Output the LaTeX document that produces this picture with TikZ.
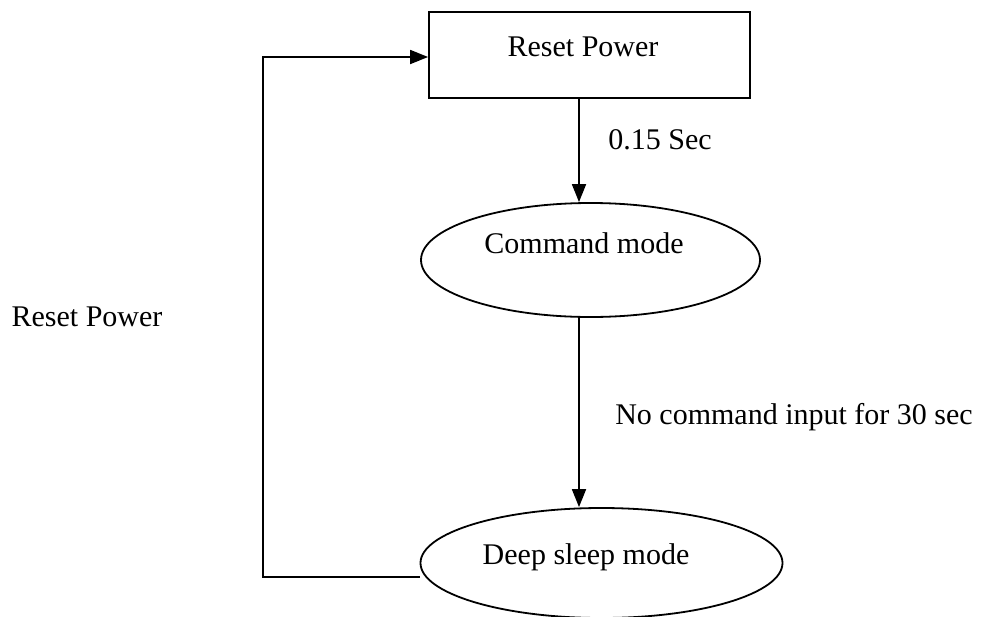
\documentclass[tikz,border=0pt]{standalone}
\usepackage{fontspec}
\setmainfont{Liberation Serif}
\usetikzlibrary{shapes.geometric,arrows.meta}
\begin{document}
\begin{tikzpicture}[x=1pt,y=-1pt,
  line width=1.8pt,
  txt/.style={font=\fontsize{30}{36}\selectfont, inner sep=0pt},
  boxnode/.style={draw, rectangle, inner sep=0pt},
  ellnode/.style={draw, ellipse, inner sep=0pt},
  arr/.style={-{Triangle[length=18pt,width=14pt]}}]
\useasboundingbox (0,0) rectangle (982,616);
\node[boxnode, minimum width=321pt, minimum height=86pt] (rp) at (589.5,55) {};
\node[txt] (rpt) at (583,47) {Reset Power};
\node[ellnode, minimum width=339pt, minimum height=114pt] (cm) at (590.5,260) {};
\node[txt] (cmt) at (584,243) {Command mode};
\node[ellnode, minimum width=362pt, minimum height=110pt] (ds) at (601.5,563) {};
\node[txt] (dst) at (586,557) {Deep sleep mode};
\coordinate (spine) at (579,0);
\coordinate (lp) at (263,577);
\coordinate (lt) at (263,57);
\draw[arr] (rp.south -| spine) -- (cm.north -| spine);
\draw[arr] (cm.south -| spine) -- (ds.north -| spine);
\draw[arr] (ds.west |- lp) -- (lp) -- (lt) -- (rp.west |- lt);
\node[txt] (l1) at (660,140) {0.15 Sec};
\node[txt] (l2) at (794,417) {No command input for 30 sec};
\node[txt] (l3) at (87,317) {Reset Power};
\end{tikzpicture}
\end{document}
